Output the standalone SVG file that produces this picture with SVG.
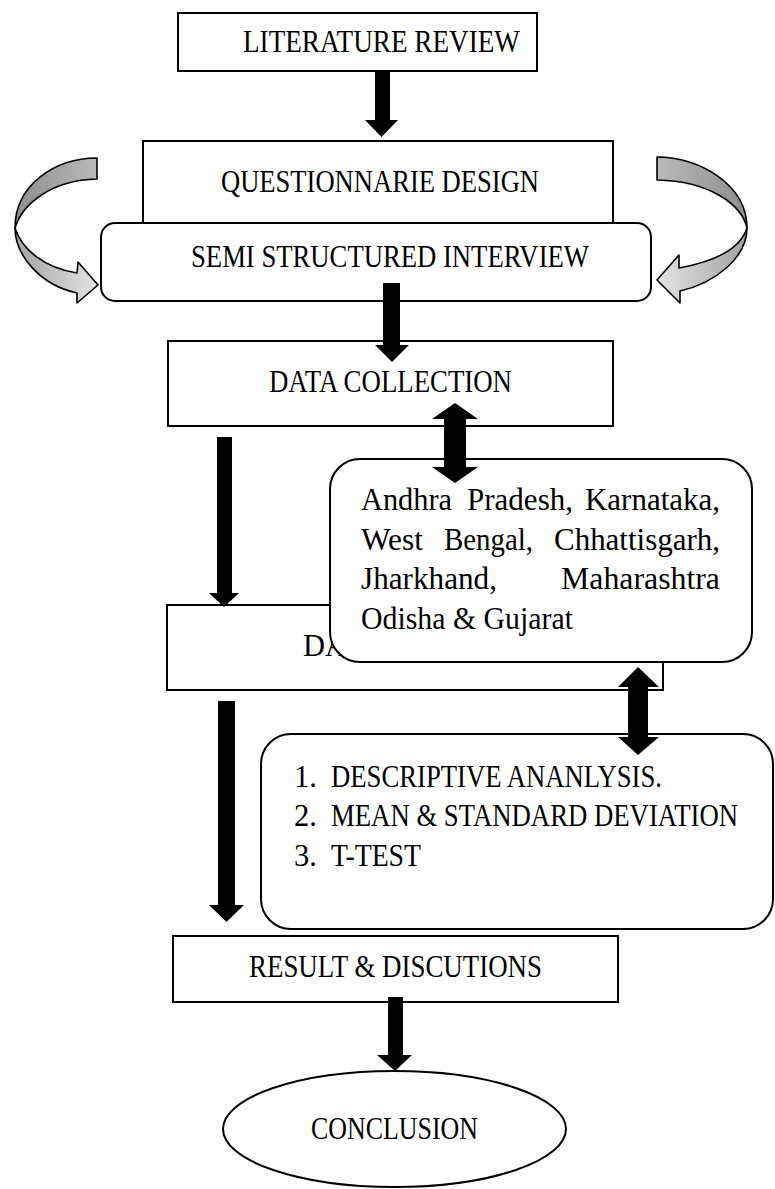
<svg xmlns="http://www.w3.org/2000/svg" width="775" height="1189" viewBox="0 0 775 1189">
<defs>
<linearGradient id="gTopL" x1="0" y1="0" x2="1" y2="0"><stop offset="0" stop-color="#8e8e8e"/><stop offset="1" stop-color="#b9b9b9"/></linearGradient>
<linearGradient id="gBotL" x1="0" y1="0" x2="1" y2="0"><stop offset="0" stop-color="#a2a2a2"/><stop offset="1" stop-color="#e4e4e4"/></linearGradient>
<linearGradient id="gTopR" x1="1" y1="0" x2="0" y2="0"><stop offset="0" stop-color="#8e8e8e"/><stop offset="1" stop-color="#b9b9b9"/></linearGradient>
<linearGradient id="gBotR" x1="1" y1="0" x2="0" y2="0"><stop offset="0" stop-color="#a2a2a2"/><stop offset="1" stop-color="#e4e4e4"/></linearGradient>
<style>
.box{fill:#fff;stroke:#000;stroke-width:2}
.t{font-family:"Liberation Serif","Times New Roman",serif;font-size:30.5px;fill:#000}
.arr{fill:#000;stroke:none}
.curl{stroke:#000;stroke-width:1.6;stroke-linejoin:round}
</style>
</defs>
<rect width="775" height="1189" fill="#fff"/>

<g id="literature-review">
<rect class="box" x="178" y="13" width="359" height="58"/>
<text class="t" x="243" y="52" textLength="277" lengthAdjust="spacingAndGlyphs">LITERATURE REVIEW</text>
</g>

<g id="questionnaire-design">
<rect class="box" x="143" y="141" width="470" height="90"/>
<text class="t" x="221" y="192" textLength="318" lengthAdjust="spacingAndGlyphs">QUESTIONNARIE DESIGN</text>
</g>

<g id="semi-structured-interview">
<rect class="box" x="101" y="223" width="550" height="78" rx="14"/>
<text class="t" x="191" y="267" textLength="398" lengthAdjust="spacingAndGlyphs">SEMI STRUCTURED INTERVIEW</text>
</g>

<g id="data-collection">
<rect class="box" x="168" y="341" width="445" height="85"/>
<text class="t" x="269" y="392" textLength="243" lengthAdjust="spacingAndGlyphs">DATA COLLECTION</text>
</g>

<g id="data-analysis">
<rect class="box" x="167" y="605" width="496" height="85"/>
<text class="t" x="303" y="656">DA</text>
</g>

<g id="states">
<rect class="box" x="330" y="459" width="422" height="203" rx="30"/>
<text class="t" x="361" y="510" textLength="91" lengthAdjust="spacingAndGlyphs">Andhra</text>
<text class="t" x="467" y="510" textLength="106" lengthAdjust="spacingAndGlyphs">Pradesh,</text>
<text class="t" x="585" y="510" textLength="135" lengthAdjust="spacingAndGlyphs">Karnataka,</text>
<text class="t" x="361" y="550" textLength="62" lengthAdjust="spacingAndGlyphs">West</text>
<text class="t" x="444" y="550" textLength="89" lengthAdjust="spacingAndGlyphs">Bengal,</text>
<text class="t" x="554" y="550" textLength="166" lengthAdjust="spacingAndGlyphs">Chhattisgarh,</text>
<text class="t" x="361" y="589" textLength="136" lengthAdjust="spacingAndGlyphs">Jharkhand,</text>
<text class="t" x="561" y="589" textLength="159" lengthAdjust="spacingAndGlyphs">Maharashtra</text>
<text class="t" x="361" y="629" textLength="212" lengthAdjust="spacingAndGlyphs">Odisha &amp; Gujarat</text>
</g>

<g id="analysis-methods">
<rect class="box" x="261" y="734" width="512" height="195" rx="30"/>
<text class="t" x="294" y="787">1.</text>
<text class="t" x="331" y="787" textLength="331" lengthAdjust="spacingAndGlyphs">DESCRIPTIVE ANANLYSIS.</text>
<text class="t" x="294" y="826">2.</text>
<text class="t" x="331" y="826" textLength="407" lengthAdjust="spacingAndGlyphs">MEAN &amp; STANDARD DEVIATION</text>
<text class="t" x="294" y="866">3.</text>
<text class="t" x="331" y="866" textLength="90" lengthAdjust="spacingAndGlyphs">T-TEST</text>
</g>

<g id="result-discussions">
<rect class="box" x="173" y="936" width="445" height="66"/>
<text class="t" x="249" y="977" textLength="293" lengthAdjust="spacingAndGlyphs">RESULT &amp; DISCUTIONS</text>
</g>

<g id="conclusion">
<ellipse class="box" cx="394.5" cy="1129" rx="171.5" ry="58"/>
<text class="t" x="311" y="1139" textLength="167" lengthAdjust="spacingAndGlyphs">CONCLUSION</text>
</g>

<g id="connectors">
<!-- Literature -> Questionnaire -->
<polygon class="arr" points="375,71 390,71 390,120 398,120 381.5,137 365,120 375,120"/>
<!-- Semi -> Data collection -->
<polygon class="arr" points="383,283 400,283 400,345 409,345 392,362 375,345 383,345"/>
<!-- Data collection <-> States -->
<polygon class="arr" points="455,403 478,419 466,419 466,467 478,467 455,483 432,467 444,467 444,419 432,419"/>
<!-- Data collection -> Data analysis -->
<polygon class="arr" points="217,437 232,437 232,593 239,593 224,607 209,593 217,593"/>
<!-- Data analysis <-> Methods -->
<polygon class="arr" points="638,667 659,687 648,687 648,737 659,737 638,755 618,737 628,737 628,687 618,687"/>
<!-- Data analysis -> Result -->
<polygon class="arr" points="218,701 235,701 235,905 244,905 226.5,922 209,905 218,905"/>
<!-- Result -> Conclusion -->
<polygon class="arr" points="388,997 403,997 403,1055 412,1055 395,1071 377,1055 388,1055"/>
<!-- Left curved arrow -->
<path class="curl" fill="url(#gTopL)" d="M97,158 C55,158 15,185 15,228 C22,205 50,180 97,179 Z"/>
<path class="curl" fill="url(#gBotL)" d="M15,228 C15,255 40,285 77,293 L77,303 L98,285 L78,262 L77,273 C45,268 22,250 15,228 Z"/>
<!-- Right curved arrow -->
<path class="curl" fill="url(#gTopR)" d="M657,157 C700,157 747,185 747,228 C742,205 710,181 657,180 Z"/>
<path class="curl" fill="url(#gBotR)" d="M747,228 C747,258 715,283 680,291 L680,303 L657,280 L679,255 L679,268 C712,262 740,250 747,228 Z"/>
</g>
</svg>
